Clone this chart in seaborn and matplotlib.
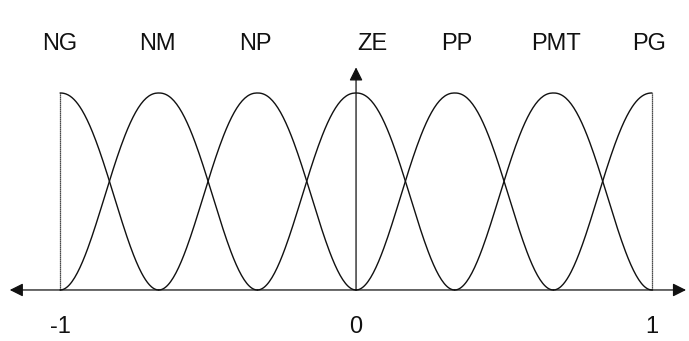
import numpy as np
import pandas as pd
import seaborn as sns
from matplotlib import pyplot as plt

# fuzzy sets: names and centres on the universe [-1, 1]
labels = ['NG', 'NM', 'NP', 'ZE', 'PP', 'PMT', 'PG']
centers = [-1.0, -2/3, -1/3, 0.0, 1/3, 2/3, 1.0]
half_width = 1/3
label_x = [-1.0, -0.67, -0.34, 0.055, 0.34, 0.675, 0.99]
tick_vals = [-1, 0, 1]
tick_text = ['-1', '0', '1']

# bell shaped sets (a slightly flattened raised cosine)
rows = []
for name, c in zip(labels, centers):
    lo = max(c - half_width, -1.0)
    hi = min(c + half_width, 1.0)
    xs = np.linspace(lo, hi, 150)
    d = np.abs(xs - c) / half_width
    mu = 0.5 * (1 + np.cos(np.pi * d ** 1.1))
    for xv, m in zip(xs, mu):
        rows.append((name, xv, m))
df = pd.DataFrame(rows, columns=['set', 'x', 'mu'])

sns.set_style('white')
plt.rcParams['font.family'] = ['Liberation Sans', 'DejaVu Sans']

fig = plt.figure(figsize=(6.89, 3.41), dpi=100)
ax = fig.add_axes([0, 0, 1, 1])
ax.set_xlim(-1.203, 1.125)
ax.set_ylim(-0.259, 1.472)
ax.axis('off')

sns.lineplot(data=df, x='x', y='mu', hue='set', hue_order=labels,
             palette=['#111111'] * len(labels), lw=1.0, legend=False,
             sort=False, ax=ax)

# vertical edges of the end sets
ax.plot([-1, -1], [0, 1], color='#111111', lw=0.9, ls=(0, (1, 0.6)))
ax.plot([1, 1], [0, 1], color='#111111', lw=0.9, ls=(0, (1, 0.6)))

# axes with arrows
arr = dict(arrowstyle='-|>', color='#111111', lw=0.9, mutation_scale=20,
           shrinkA=0, shrinkB=0)
ax.annotate('', xy=(-1.17, 0), xytext=(0, 0), arrowprops=arr)
ax.annotate('', xy=(1.115, 0), xytext=(0, 0), arrowprops=arr)
ax.annotate('', xy=(0, 1.13), xytext=(0, 0), arrowprops=arr)

for name, lx in zip(labels, label_x):
    ax.text(lx, 1.25, name, ha='center', va='center', fontsize=17,
            color='#111111')
for v, t in zip(tick_vals, tick_text):
    ax.text(v, -0.19, t, ha='center', va='center', fontsize=17,
            color='#111111')

fig.savefig('out.png', dpi=100)
